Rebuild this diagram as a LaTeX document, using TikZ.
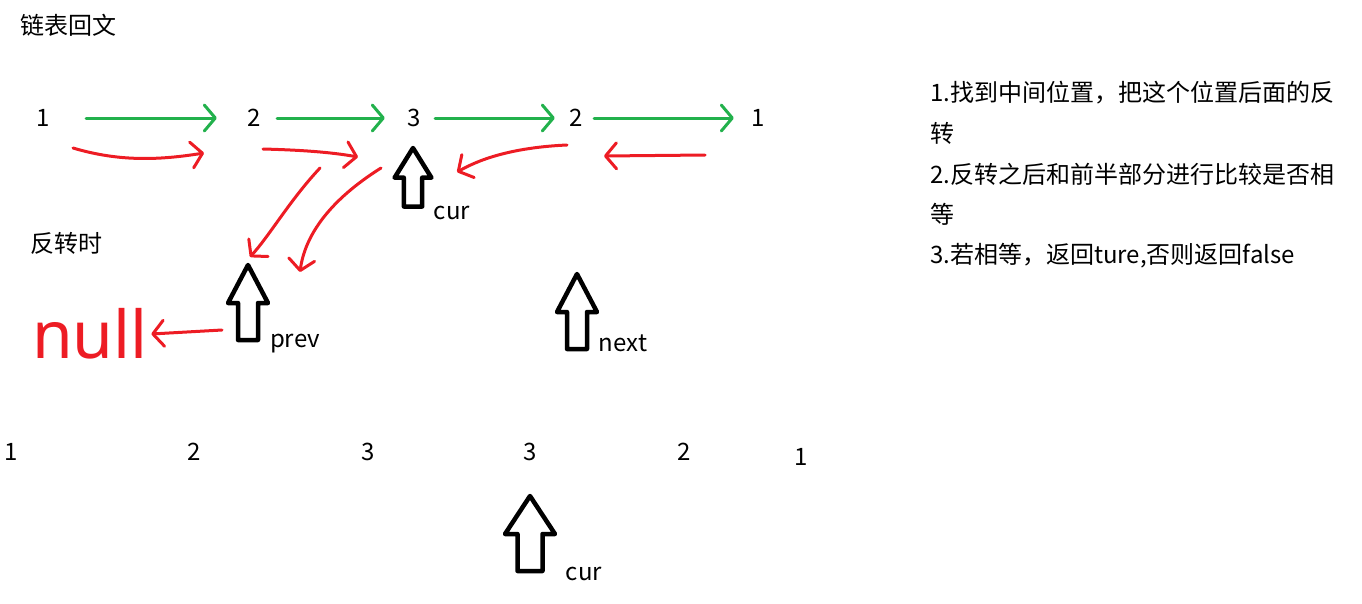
\documentclass[tikz,border=0pt]{standalone}
\usepackage{fontspec}
\setmainfont{Noto Sans CJK SC}
\newfontfamily\handfont{Noto Sans}
\usepackage{tikz}
\usetikzlibrary{arrows.meta,calc,positioning}
\definecolor{paintgreen}{RGB}{34,177,76}
\definecolor{paintred}{RGB}{237,28,36}
\tikzset{
  garr/.style={draw=paintgreen,line width=3pt,line cap=round,-{Straight Barb[length=11pt,width=26pt,round]}},
  rarr/.style={draw=paintred,line width=3pt,line cap=round,-{Straight Barb[length=11pt,width=26pt,round]}},
  bigup/.pic={\draw[line width=4.5pt,line join=round] (0,0) -- (20,38) -- (10,38) -- (10,75) -- (-10,75) -- (-10,38) -- (-20,38) -- cycle;},
  lbl/.style={font=\fontsize{24}{28}\selectfont}
}

\begin{document}
\begin{tikzpicture}[x=1pt,y=-1pt,every node/.style={lbl}]
  \useasboundingbox (0,0) rectangle (1362,603);
  \node[anchor=west,inner sep=0] (title) at (20,25) {链表回文};
  % first row
  \node (a1) at (43,118) {1};
  \node (a2) at (254,118) {2};
  \node (a3) at (414,118) {3};
  \node (a4) at (576,118) {2};
  \node (a5) at (758,118) {1};
  \draw[garr,shorten <=33pt,shorten >=27pt] (a1) -- (a2);
  \draw[garr,shorten <=13pt,shorten >=19pt] (a2) -- (a3);
  \draw[garr,shorten <=11pt,shorten >=11pt] (a3) -- (a4);
  \draw[garr,shorten <=8pt,shorten >=14pt] (a4) -- (a5);
  % reversed pointers
  \coordinate (r1s) at (73,148);  \coordinate (r1e) at (204,153);
  \coordinate (r2s) at (263,149); \coordinate (r2e) at (358,157);
  \coordinate (r3s) at (567,145); \coordinate (r3e) at (457,172);
  \coordinate (r4s) at (705,155); \coordinate (r4e) at (604,156);
  \coordinate (r5s) at (320,168); \coordinate (r5e) at (250,257);
  \coordinate (r6s) at (381,168); \coordinate (r6e) at (300,272);
  \coordinate (r7s) at (222,330);
  \draw[rarr] (r1s) .. controls (120,162) and (160,160) .. (r1e);
  \draw[rarr] (r2s) .. controls (300,150) and (330,152) .. (r2e);
  \draw[rarr] (r3s) .. controls (500,148) and (470,165) .. (r3e);
  \draw[rarr] (r4s) -- (r4e);
  \draw[rarr] (r5s) .. controls (290,200) and (270,235) .. (r5e);
  \draw[rarr] (r6s) .. controls (330,200) and (305,235) .. (r6e);
  \node[text=paintred,font=\handfont\fontsize{66}{70}\selectfont] (nul) at (90,334) {null};
  \draw[rarr] (r7s) -- (nul.east);
  \node (rev) at (66,243) {反转时};
  % pointers
  \pic[xscale=0.92,yscale=0.78] at (413,148) {bigup};
  \node (cur) at (452,213) {cur};
  \pic at (248,265) {bigup};
  \node (prev) at (295,344) {prev};
  \pic at (577,274) {bigup};
  \node (next) at (623,343) {next};
  % second row
  \node (b1) at (11,452) {1};
  \node (b2) at (194,452) {2};
  \node (b3) at (368,452) {3};
  \node (b4) at (530,452) {3};
  \node (b5) at (684,452) {2};
  \node (b6) at (801,457) {1};
  \pic[xscale=1.25] at (530,496) {bigup};
  \node (cur2) at (584,574) {cur};
  % steps
  \node[anchor=west,inner sep=0] (s1) at (930,93) {1.找到中间位置，把这个位置后面的反};
  \node[anchor=west,inner sep=0] (s1b) at (930,133) {转};
  \node[anchor=west,inner sep=0] (s2) at (930,174) {2.反转之后和前半部分进行比较是否相};
  \node[anchor=west,inner sep=0] (s2b) at (930,214) {等};
  \node[anchor=west,inner sep=0] (s3) at (930,256) {3.若相等，返回ture,否则返回false};
\end{tikzpicture}
\end{document}
